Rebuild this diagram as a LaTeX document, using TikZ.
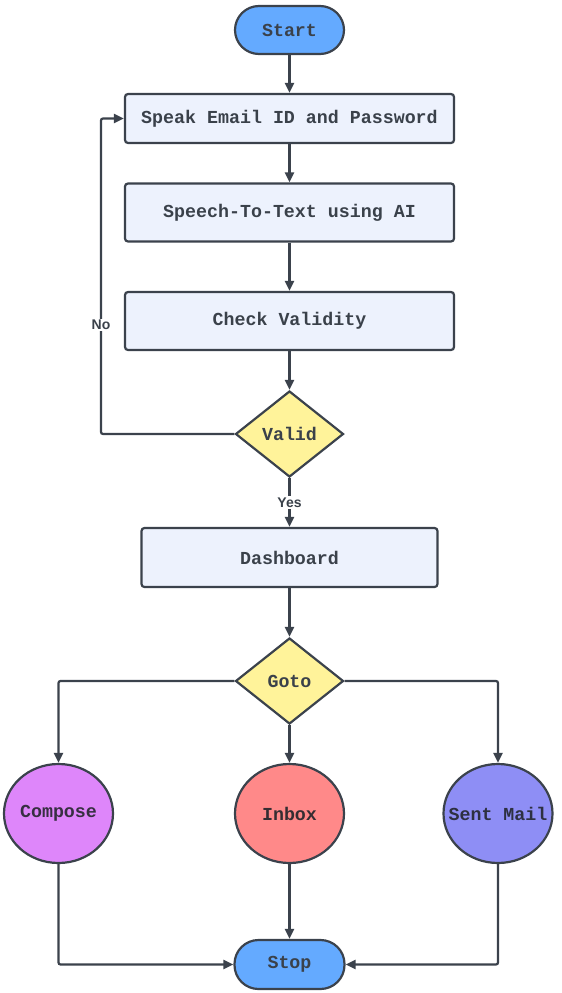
\documentclass[tikz,border=0pt]{standalone}
\usepackage{fontspec}
\setmonofont{Liberation Mono}
\setsansfont{Liberation Sans}
\usetikzlibrary{shapes.geometric,arrows.meta}
\definecolor{edge}{HTML}{3B424C}
\definecolor{txt}{HTML}{3A414A}
\definecolor{pill}{HTML}{64AAFF}
\definecolor{boxfill}{HTML}{EDF2FD}
\definecolor{dia}{HTML}{FFF39A}
\definecolor{comp}{HTML}{DE86FA}
\definecolor{inbx}{HTML}{FF8989}
\definecolor{sent}{HTML}{8E8EF5}
\begin{document}
\begin{tikzpicture}[x=1pt,y=-1pt,
  base/.style={draw=edge,line width=2.2pt,text=txt,font=\fontsize{18.3}{20}\selectfont\ttfamily\bfseries,inner sep=0pt},
  pillbox/.style={base,rectangle,rounded corners=24pt,fill=pill,minimum width=109pt,minimum height=48pt},
  stepbox/.style={base,rectangle,rounded corners=3pt,fill=boxfill,minimum height=58pt},
  decide/.style={base,diamond,fill=dia,minimum width=108pt,minimum height=86pt},
  oval/.style={base,ellipse,minimum width=109pt,minimum height=99pt},
  arr/.style={draw=edge,line width=2.2pt,-{Triangle[length=10pt,width=9pt]}},
  lab/.style={fill=white,text=txt,font=\fontsize{14}{15}\selectfont\sffamily\bfseries,inner sep=1.5pt}
]
\useasboundingbox (0,0) rectangle (562,993);
\node[pillbox] (start) at (289.5,30) {Start};
\node[stepbox,minimum width=329pt,minimum height=49pt] (b1) at (289.5,118.5) {Speak Email ID and Password};
\node[stepbox,minimum width=329pt] (b2) at (289.5,212.5) {Speech-To-Text using AI};
\node[stepbox,minimum width=329pt] (b3) at (289.5,321) {Check Validity};
\node[decide] (valid) at (289.5,434) {Valid};
\node[stepbox,minimum width=296pt,minimum height=59pt] (dash) at (289.5,557.5) {Dashboard};
\node[decide] (goto) at (289.5,681) {Goto};
\node[oval,fill=comp,label={[text=txt!80!comp!60!black,font=\fontsize{18.3}{20}\selectfont\ttfamily\bfseries]center:Compose}] (compose) at (58.5,813.5) {};
\node[oval,fill=inbx,label={[text=txt!85!inbx!60!black,font=\fontsize{18.3}{20}\selectfont\ttfamily\bfseries]center:Inbox}] (inbox) at (289.5,813.5) {};
\node[oval,fill=sent,label={[text=txt!80!sent!60!black,font=\fontsize{18.3}{20}\selectfont\ttfamily\bfseries]center:Sent Mail}] (sentm) at (498,813.5) {};
\node[pillbox,minimum width=110pt,minimum height=49pt] (stop) at (289.5,964.5) {Stop};
\coordinate (nocorner) at (101,118.5);
\draw[arr] (start) -- (b1);
\draw[arr] (b1) -- (b2);
\draw[arr] (b2) -- (b3);
\draw[arr] (b3) -- (valid);
\draw[arr,rounded corners=2pt] (valid.west) -| (nocorner) -- (b1.west);
\node[lab] (nolab) at (101,325) {No};
\draw[arr] (valid) -- (dash) node[lab,midway] (yeslab) {Yes};
\draw[arr] (dash) -- (goto);
\draw[arr,rounded corners=2pt] (goto.west) -| (compose);
\draw[arr] (goto) -- (inbox);
\draw[arr,rounded corners=2pt] (goto.east) -| (sentm);
\draw[arr,rounded corners=2pt] (compose) |- (stop);
\draw[arr] (inbox) -- (stop);
\draw[arr,rounded corners=2pt] (sentm) |- (stop);
\end{tikzpicture}
\end{document}
